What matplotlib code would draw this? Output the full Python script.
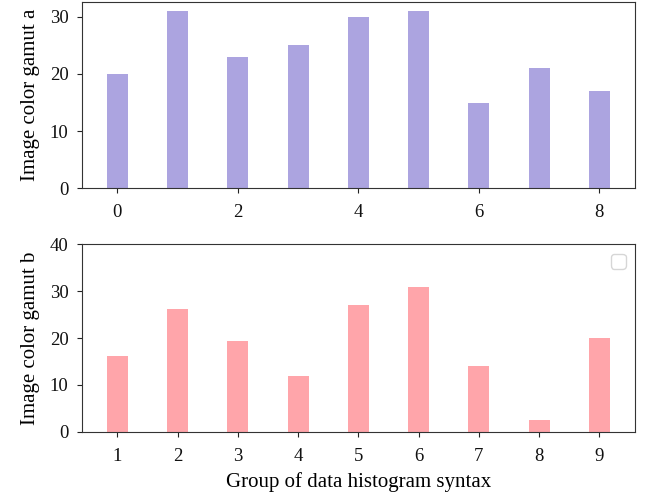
import matplotlib
matplotlib.use("Agg")
import matplotlib.pyplot as plt

# gamut a: groups 0..8
groups_a = list(range(9))
gamut_a = [20, 31, 23, 25, 30, 31, 15, 21, 17]

# gamut b: groups 1..9
groups_b = list(range(1, 10))
gamut_b = [16.2, 26.2, 19.4, 11.9, 27.0, 30.9, 14.0, 2.5, 20.0]

plt.rcParams['font.family'] = ['Liberation Serif', 'DejaVu Serif']
plt.rcParams['font.size'] = 13.5
plt.rcParams['axes.labelsize'] = 15
plt.rcParams['xtick.major.pad'] = 8
plt.rcParams['ytick.major.pad'] = 6

fig = plt.figure(figsize=(6.53, 4.98), dpi=100)
ax1 = fig.add_axes([0.125, 0.6215, 0.8475, 0.3745])
ax2 = fig.add_axes([0.125, 0.1331, 0.8475, 0.3763])

ax1.bar(groups_a, gamut_a, width=0.35, color='#ACA4E0')
ax1.set_ylabel('Image color gamut a', labelpad=7)
ax1.set_yticks([0, 10, 20, 30])

ax2.bar(groups_b, gamut_b, width=0.35, color='#FFA5AA')
ax2.set_ylim(0, 40)
ax2.set_xticks(groups_b)
ax2.set_ylabel('Image color gamut b', labelpad=7)
ax2.set_xlabel('Group of data histogram syntax', labelpad=5)
ax2.legend(handles=[], loc='upper right')

for ax in (ax1, ax2):
    for s in ax.spines.values():
        s.set_color('#333333')
    ax.tick_params(colors='#222222', labelcolor='#111111')

fig.savefig('out.png', dpi=100)
